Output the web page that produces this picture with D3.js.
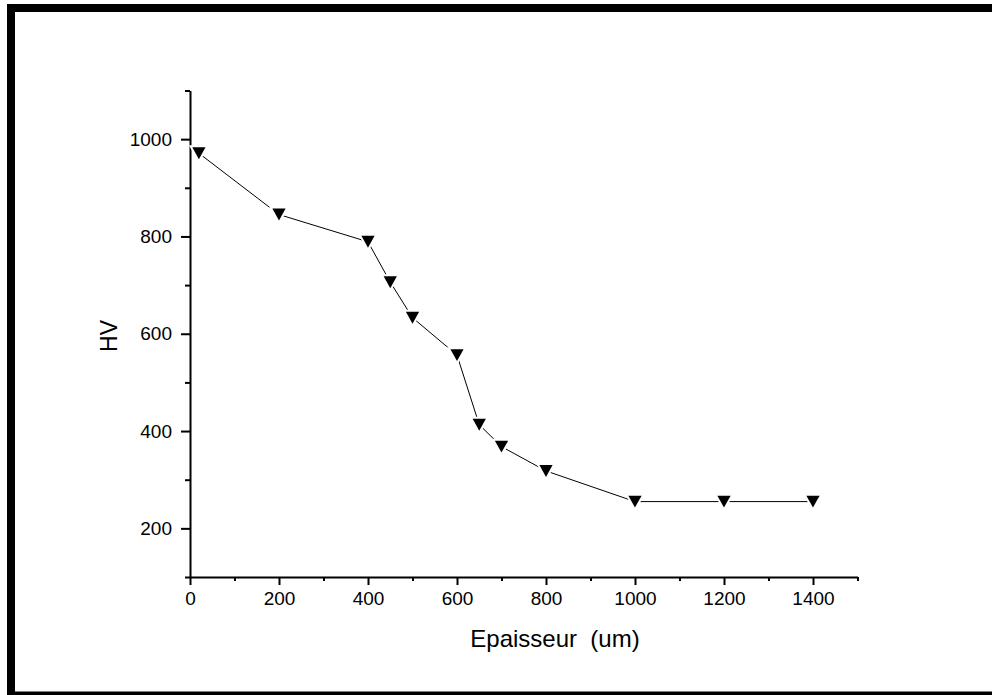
<!DOCTYPE html>
<html>
<head>
<meta charset="utf-8">
<script src="https://cdn.jsdelivr.net/npm/d3@7"></script>
<style>
  html, body { margin: 0; background: #fff; overflow: hidden; }
  svg { display: block; font-family: Arial, "Liberation Sans", sans-serif; }
</style>
</head>
<body>
<div id="chart"></div>
<script>
// data
const epaisseur = [20, 200, 400, 450, 500, 600, 650, 700, 800, 1000, 1200, 1400];
const hv = [971, 845, 789, 706, 633, 556, 413, 368, 318, 255, 255, 255];
const xMajor = [0, 200, 400, 600, 800, 1000, 1200, 1400];
const xMinor = [100, 300, 500, 700, 900, 1100, 1300, 1500];
const yMajor = [200, 400, 600, 800, 1000];
const yMinor = [100, 300, 500, 700, 900, 1100];

const W = 992, H = 695;
const margin = { left: 190, right: 134.5, top: 90.5, bottom: 118 };

const svg = d3.select('#chart').append('svg')
  .attr('width', W)
  .attr('height', H);

// outer frame: top, left and bottom edges only (right runs off the page)
const frame = [[W, 8, 11, 8], [11, 4, 11, H], [11, 695.5, W, 695.5]];
svg.append('g')
  .selectAll('line')
  .data(frame)
  .join('line')
  .attr('x1', d => d[0]).attr('y1', d => d[1])
  .attr('x2', d => d[2]).attr('y2', d => d[3])
  .attr('stroke', '#000')
  .attr('stroke-width', 8);

const x = d3.scaleLinear().domain([0, 1500]).range([margin.left, W - margin.right]);
const y = d3.scaleLinear().domain([100, 1100]).range([H - margin.bottom, margin.top]);

const x0 = y(100), y0 = x(0);
const fmt = d3.format('d');

// x axis
svg.append('g')
  .attr('transform', `translate(0,${x0})`)
  .call(d3.axisBottom(x).tickValues(xMinor).tickSize(4).tickSizeOuter(0).tickFormat(''))
  .call(g => g.select('.domain').remove());
const gx = svg.append('g')
  .attr('transform', `translate(0,${x0})`)
  .call(d3.axisBottom(x).tickValues(xMajor).tickSize(8).tickSizeOuter(0).tickPadding(7).tickFormat(fmt));
gx.selectAll('text').style('font-size', '19px').attr('fill', '#000');

// y axis
svg.append('g')
  .attr('transform', `translate(${y0},0)`)
  .call(d3.axisLeft(y).tickValues(yMinor).tickSize(5).tickSizeOuter(0).tickFormat(''))
  .call(g => g.select('.domain').remove());
const gy = svg.append('g')
  .attr('transform', `translate(${y0},0)`)
  .call(d3.axisLeft(y).tickValues(yMajor).tickSize(9).tickSizeOuter(0).tickPadding(9).tickFormat(fmt));
gy.selectAll('text').style('font-size', '19px').attr('fill', '#000');

svg.selectAll('g').attr('font-family', null);
svg.selectAll('.domain, .tick line').attr('stroke', '#000').attr('stroke-width', 2);

// line
const pts = epaisseur.map((d, i) => [d, hv[i]]);
svg.append('path')
  .datum(pts)
  .attr('fill', 'none')
  .attr('stroke', '#000')
  .attr('stroke-width', 1)
  .attr('d', d3.line().x(d => x(d[0])).y(d => y(d[1])));

// down triangle markers, box-centred
const triDown = {
  draw(ctx, size) {
    const w = Math.sqrt(size) * 0.54, h = w * 0.9;
    ctx.moveTo(-w, -h);
    ctx.lineTo(w, -h);
    ctx.lineTo(0, h);
    ctx.closePath();
  }
};
svg.append('g')
  .selectAll('path')
  .data(pts)
  .join('path')
  .attr('transform', d => `translate(${x(d[0])},${y(d[1])})`)
  .attr('d', d3.symbol().type(triDown).size(150))
  .attr('fill', '#000')
  .attr('stroke', '#fff')
  .attr('stroke-width', 4)
  .attr('paint-order', 'stroke');

// axis titles
svg.append('text')
  .attr('x', 555)
  .attr('y', 647)
  .attr('text-anchor', 'middle')
  .attr('font-size', 24)
  .style('white-space', 'pre')
  .text('Epaisseur  (um)');

svg.append('text')
  .attr('transform', 'translate(117,336) rotate(-90)')
  .attr('text-anchor', 'middle')
  .attr('font-size', 23)
  .text('HV');
</script>
</body>
</html>
